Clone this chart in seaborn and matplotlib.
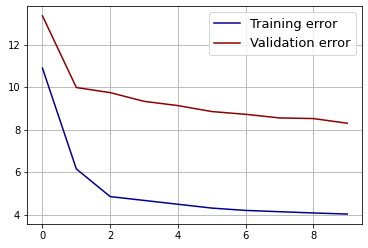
import numpy as np
import pandas as pd
import matplotlib
matplotlib.use("Agg")
import matplotlib.pyplot as plt
import seaborn as sns

# epochs and error values
epochs = list(range(10))
train_err = [10.89, 6.15, 4.85, 4.67, 4.49, 4.31, 4.20, 4.14, 4.08, 4.03]
val_err = [13.35, 9.98, 9.74, 9.33, 9.13, 8.85, 8.72, 8.55, 8.52, 8.30]

df = pd.DataFrame({
    "epoch": epochs * 2,
    "error": train_err + val_err,
    "series": ["Training error"] * 10 + ["Validation error"] * 10,
})

plt.rcParams["font.family"] = ["DejaVu Sans"]
fig, ax = plt.subplots(figsize=(368 / 72, 248 / 72), dpi=72)
fig.subplots_adjust(left=0.074, right=0.985, top=0.976, bottom=0.097)

sns.lineplot(data=df, x="epoch", y="error", hue="series",
             palette={"Training error": "darkblue", "Validation error": "darkred"},
             ax=ax, linewidth=1.5)

ax.grid(True)
ax.set_xlabel("")
ax.set_ylabel("")
ax.set_xticks([0, 2, 4, 6, 8])
ax.set_yticks([4, 6, 8, 10, 12])
ax.tick_params(labelsize=10)
ax.legend(fontsize=13, loc="upper right")

fig.savefig("out.png", dpi=72)
